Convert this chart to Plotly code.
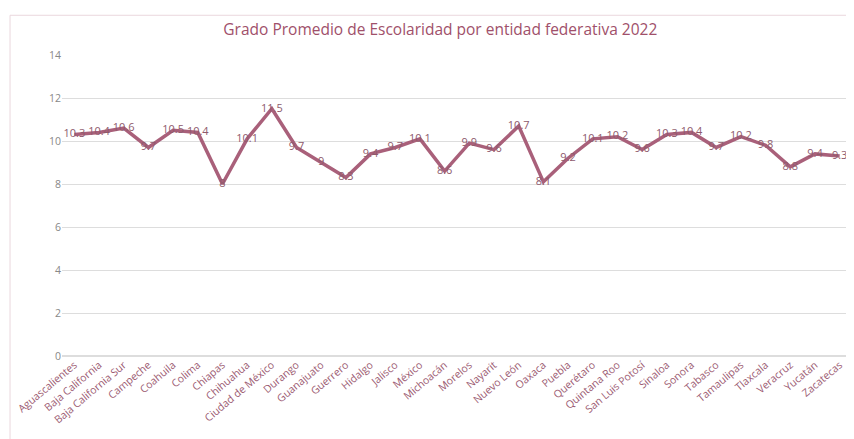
import plotly.graph_objects as go

estados = ["Aguascalientes", "Baja California", "Baja California Sur", "Campeche", "Coahuila",
           "Colima", "Chiapas", "Chihuahua", "Ciudad de México", "Durango", "Guanajuato",
           "Guerrero", "Hidalgo", "Jalisco", "México", "Michoacán", "Morelos", "Nayarit",
           "Nuevo León", "Oaxaca", "Puebla", "Querétaro", "Quintana Roo", "San Luis Potosí",
           "Sinaloa", "Sonora", "Tabasco", "Tamaulipas", "Tlaxcala", "Veracruz", "Yucatán",
           "Zacatecas"]
grado = [10.3, 10.4, 10.6, 9.7, 10.5, 10.4, 8, 10.1, 11.5, 9.7, 9, 8.3, 9.4, 9.7, 10.1, 8.6,
         9.9, 9.6, 10.7, 8.1, 9.2, 10.1, 10.2, 9.6, 10.3, 10.4, 9.7, 10.2, 9.8, 8.8, 9.4, 9.3]
y_ticks = [0, 2, 4, 6, 8, 10, 12, 14]

LINE = "#A9607A"
FONT = "Open Sans"

fig = go.Figure(go.Scatter(
    x=estados, y=grado, mode="lines+text",
    line=dict(color=LINE, width=3.5),
    text=[f"{v:g}" for v in grado], textposition="middle center",
    textfont=dict(family=FONT, size=11, color="#8E5A6C"),
    cliponaxis=False, hoverinfo="x+y",
))

fig.update_layout(
    width=846, height=431,
    margin=dict(l=54, r=2, t=47, b=83, autoexpand=False),
    paper_bgcolor="white", plot_bgcolor="white",
    showlegend=False,
    title=dict(text="Grado Promedio de Escolaridad por entidad federativa 2022",
               x=0.511, xanchor="center", y=0.949, yanchor="middle",
               font=dict(family=FONT, size=15.5, color="#A0506A")),
    xaxis=dict(type="category", tickangle=-40, showgrid=False, showline=False,
               ticks="", automargin=False,
               tickfont=dict(family=FONT, size=10.5, color="#9C5B72"),
               range=[-0.5, len(estados) - 0.5]),
    yaxis=dict(range=[0, 14], tickvals=y_ticks, showgrid=True, gridcolor="#DDDDDD",
               gridwidth=1, zeroline=True, zerolinecolor="#DDDDDD", showline=False,
               ticks="", automargin=False,
               tickfont=dict(family=FONT, size=10.5, color="#888888")),
    shapes=[dict(type="rect", xref="paper", yref="paper", x0=-0.0658, x1=1.0, y0=-0.3, y1=1.132,
                 line=dict(color="#EAD7DD", width=1), fillcolor="rgba(0,0,0,0)", layer="below")],
)

fig.write_html("out.html")
